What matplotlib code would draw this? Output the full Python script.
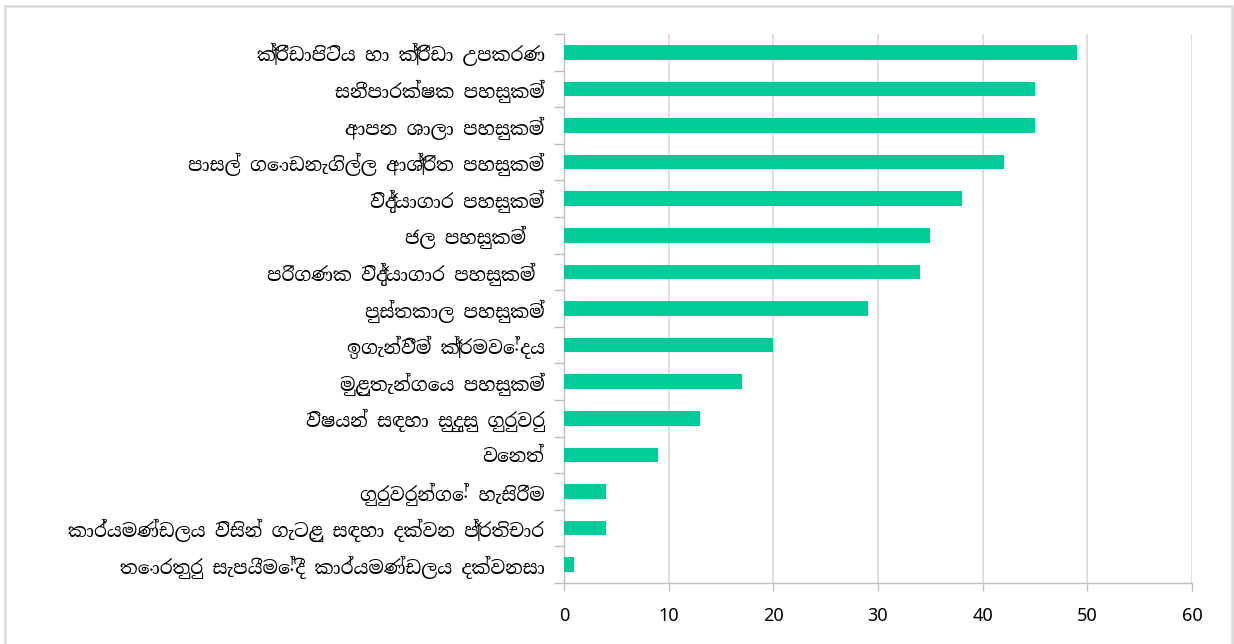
import matplotlib
matplotlib.use("Agg")
import matplotlib.pyplot as plt
from matplotlib.patches import Rectangle

# ගැටළු / පහසුකම් ප්‍රමාණය
categories = [
    "ක්‍රීඩාපිටිය හා ක්‍රීඩා උපකරණ",
    "සනීපාරක්ෂක පහසුකම්",
    "ආපන ශාලා පහසුකම්",
    "පාසල් ගොඩනැගිල්ල ආශ්‍රිත පහසුකම්",
    "විද්‍යාගාර පහසුකම්",
    "ජල පහසුකම්  ",
    "පරිගණක විද්‍යාගාර පහසුකම් ",
    "පුස්තකාල පහසුකම්",
    "ඉගැන්වීම් ක්‍රමවේදය",
    "මුළුතැන්ගෙය පහසුකම්",
    "විෂයන් සඳහා සුදුසු ගුරුවරු",
    "වෙනත්",
    "ගුරුවරුන්ගේ හැසිරීම",
    "කාර්යමණ්ඩලය විසින් ගැටළු සඳහා දක්වන ප්‍රතිචාර",
    "තොරතුරු සැපයීමේදී කාර්යමණ්ඩලය දක්වනසා",
]
values = [49, 45, 45, 42, 38, 35, 34, 29, 20, 17, 13, 9, 4, 4, 1]
x_ticks = [0, 10, 20, 30, 40, 50, 60]

bar_color = "#00CC99"
grid_color = "#D9D9D9"
axis_color = "#BFBFBF"
sinhala = ["Noto Serif Sinhala", "Noto Sans Sinhala", "DejaVu Sans"]

fig = plt.figure(figsize=(12.34, 6.44), dpi=100)
ax = fig.add_axes([564 / 1234, 1 - 583 / 644, (1192 - 564) / 1234, (583 - 34) / 644])

pos = list(range(len(categories)))
ax.barh(pos, values, height=0.4, color=bar_color, zorder=3)

ax.set_ylim(len(categories) - 0.5, -0.5)
ax.set_xlim(0, 60)
ax.set_xticks(x_ticks)
ax.set_xticklabels([str(t) for t in x_ticks], fontsize=13,
                   family=["Noto Sans", "DejaVu Sans"])

ax.set_yticks(pos)
ax.set_yticklabels(categories, fontsize=13.5, family=sinhala)
ax.tick_params(axis="y", length=0, pad=14)
ax.set_yticks([p - 0.5 for p in pos] + [len(pos) - 0.5], minor=True)
ax.tick_params(axis="y", which="minor", length=7, color=axis_color, width=1)
ax.tick_params(axis="x", length=6, color=axis_color, width=1, pad=11)

ax.grid(axis="x", color=grid_color, linewidth=1.2, zorder=0)
for side in ["top", "right"]:
    ax.spines[side].set_visible(False)
for side in ["left", "bottom"]:
    ax.spines[side].set_color(axis_color)
    ax.spines[side].set_linewidth(1)

# outer chart frame
frame = Rectangle((4.5 / 1234, -0.1), (1232 - 4.5) / 1234, 1.1 - 6 / 644,
                  transform=fig.transFigure, fill=False,
                  edgecolor=grid_color, linewidth=1.8)
fig.patches.append(frame)

fig.savefig("out.png", dpi=100)
